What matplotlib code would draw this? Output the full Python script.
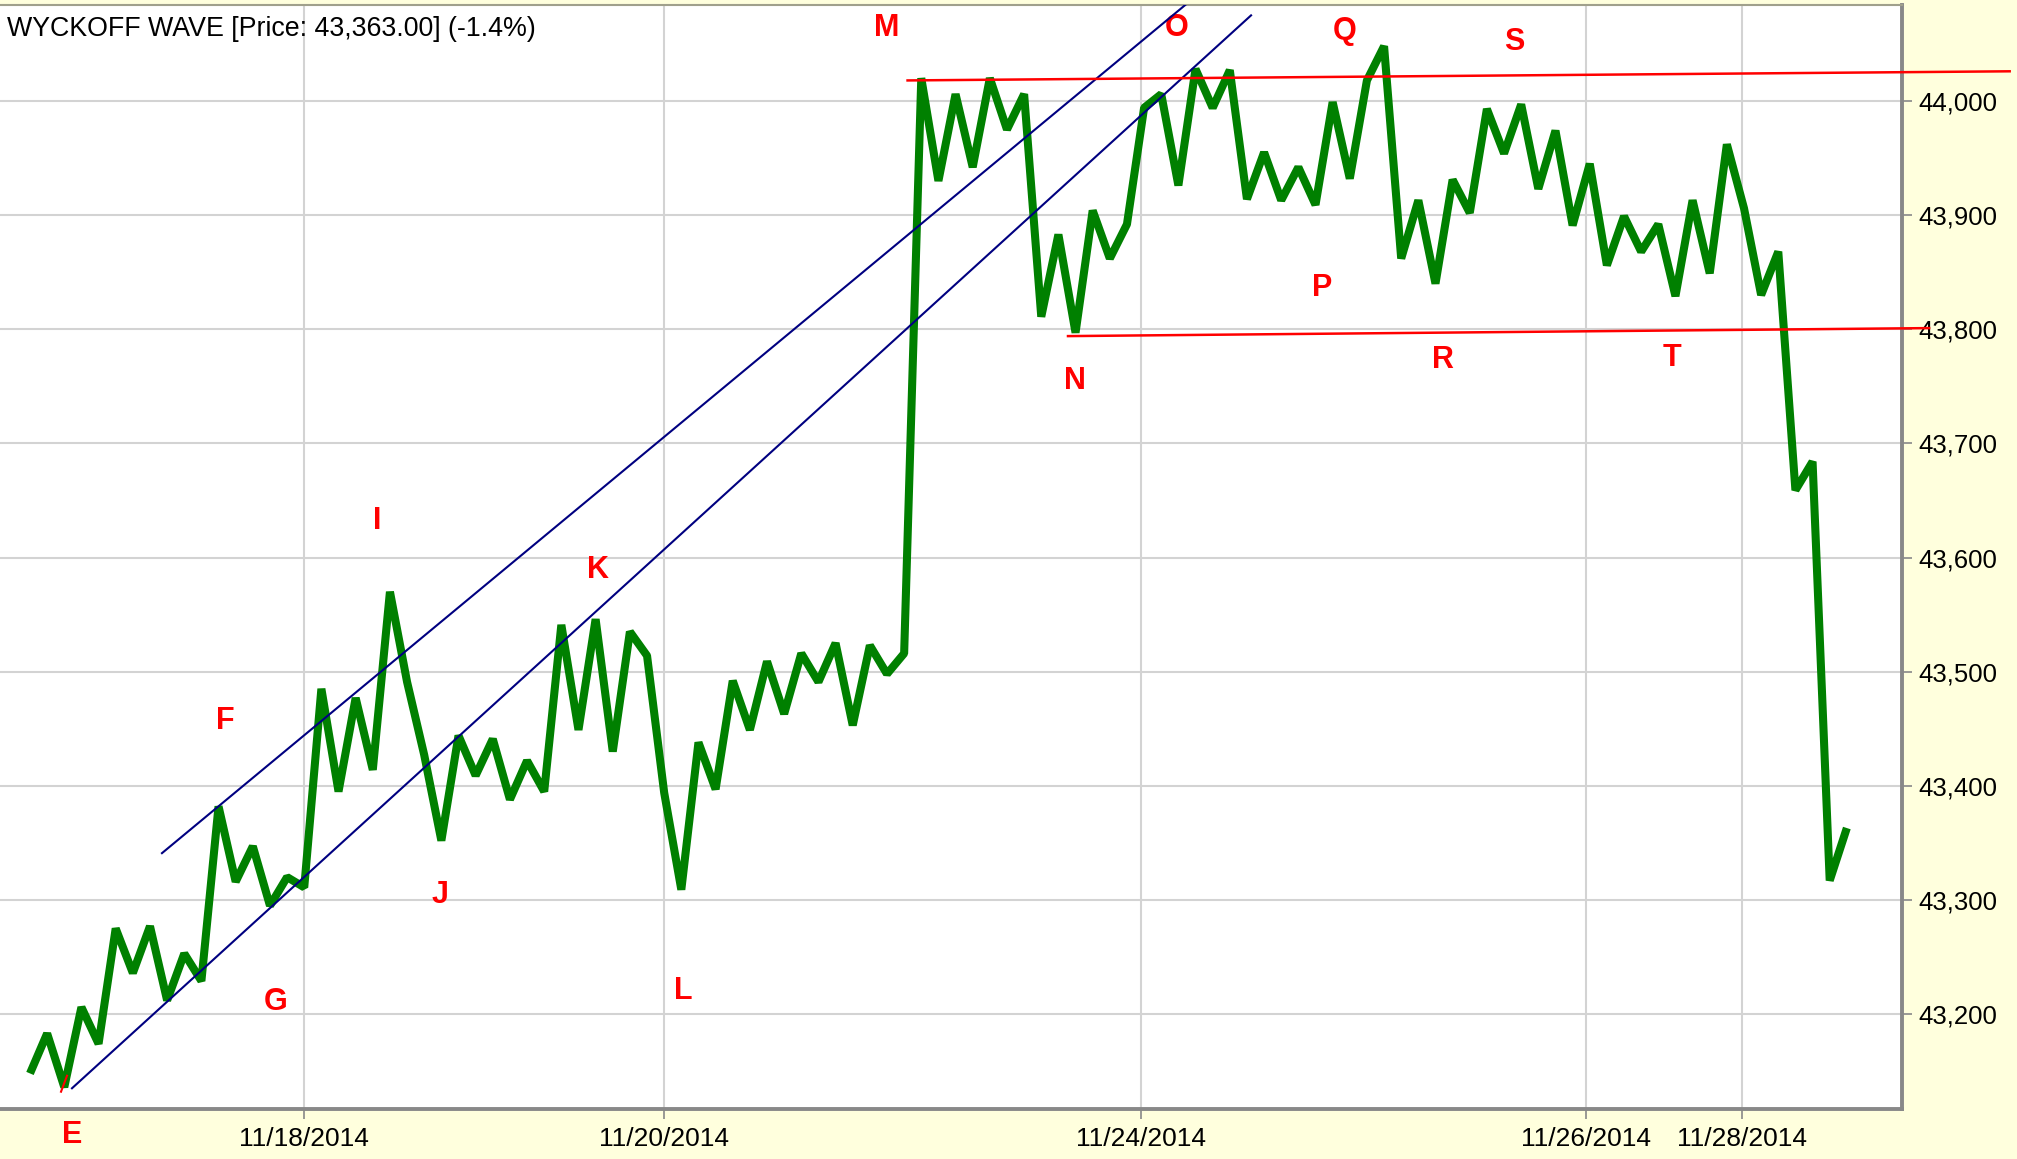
import matplotlib
matplotlib.use("Agg")
import matplotlib.pyplot as plt
import numpy as np
from matplotlib.ticker import FuncFormatter

plt.rcParams['font.family'] = ['Liberation Sans', 'DejaVu Sans']

# closing values, one per bar of the intraday series
prices = [43148, 43183, 43136, 43206, 43174, 43275, 43236, 43277, 43212, 43253,
          43229, 43382, 43316, 43347, 43295, 43320, 43311, 43485, 43395, 43477,
          43414, 43570, 43491, 43427, 43352, 43444, 43409, 43441, 43388, 43422,
          43395, 43541, 43449, 43546, 43430, 43535, 43514, 43394, 43309, 43438,
          43397, 43492, 43449, 43509, 43463, 43516, 43491, 43525, 43453, 43523,
          43498, 43516, 44020, 43930, 44006, 43942, 44020, 43975, 44006, 43811,
          43883, 43797, 43904, 43862, 43892, 43994, 44006, 43926, 44028, 43994,
          44027, 43914, 43955, 43913, 43942, 43909, 43999, 43932, 44018, 44048,
          43862, 43913, 43840, 43931, 43902, 43993, 43954, 43997, 43923, 43974,
          43891, 43945, 43856, 43899, 43868, 43892, 43829, 43913, 43849, 43962,
          43906, 43830, 43868, 43659, 43684, 43317, 43363]
bars = np.arange(len(prices))

date_pos = [16, 37, 64.8, 90.8, 99.9]
date_labels = ['11/18/2014', '11/20/2014', '11/24/2014', '11/26/2014', '11/28/2014']
price_ticks = [43200, 43300, 43400, 43500, 43600, 43700, 43800, 43900, 44000]

wave_letters = ['E', 'F', 'G', 'I', 'J', 'K', 'L', 'M', 'N', 'O', 'P', 'Q', 'R', 'S', 'T']
letter_x = [2.45, 11.38, 14.35, 20.25, 23.92, 33.14, 38.1, 50.0, 60.97, 66.92,
            75.38, 76.72, 82.44, 86.58, 95.8]
letter_y = [43094, 43457, 43211, 43632, 43304, 43589, 43220, 44064, 43755, 44064,
            43836, 44061, 43773, 44052, 43775]

# trend channel and trading range
chan_low_x, chan_low_y = [2.45, 71.24], [43135, 44075]
chan_high_x, chan_high_y = [7.70, 69.0], [43341, 44104]
resist_x, resist_y = [51.2, 115.5], [44018, 44026]
support_x, support_y = [60.56, 110.8], [43794, 43801]
tick_e_x, tick_e_y = [1.81, 2.16], [43132, 43146]

fig = plt.figure(figsize=(20.17, 11.59), dpi=100, facecolor='#FFFFDD')
ax = fig.add_axes([0, 0.0431, 0.943, 0.9526])
ax.set_facecolor('white')

ax.plot(bars, prices, color='#008000', lw=5.8, solid_joinstyle='bevel',
        solid_capstyle='butt', zorder=3)
ax.plot(chan_low_x, chan_low_y, color='#000080', lw=1.5, zorder=4)
ax.plot(chan_high_x, chan_high_y, color='#000080', lw=1.5, zorder=4)
ax.plot(resist_x, resist_y, color='red', lw=1.8, zorder=5, clip_on=False)
ax.plot(support_x, support_y, color='red', lw=1.8, zorder=5, clip_on=False)
ax.plot(tick_e_x, tick_e_y, color='red', lw=1.5, zorder=5, clip_on=False)

for s, lx, ly in zip(wave_letters, letter_x, letter_y):
    ax.text(lx, ly, s, color='red', fontsize=22, fontweight='bold',
            ha='center', va='center', clip_on=False)

ax.text(0.0037, 0.972, 'WYCKOFF WAVE [Price: 43,363.00] (-1.4%)',
        transform=ax.transAxes, fontsize=19.3, va='baseline', ha='left')

ax.set_xlim(-1.75, 109.22)
ax.set_ylim(43116.8, 44084.1)

ax.set_xticks(date_pos)
ax.set_xticklabels(date_labels)
ax.set_yticks(price_ticks)
ax.yaxis.set_major_formatter(FuncFormatter(lambda v, p: f'{v:,.0f}'))
ax.yaxis.tick_right()

ax.tick_params(axis='x', labelsize=19, length=7, width=1.2, color='#888888', pad=6)
ax.tick_params(axis='y', labelsize=18.5, length=7, width=1.2, color='#888888', pad=5)

ax.grid(True, color='#d3d3d3', lw=1.5)
ax.set_axisbelow(True)

ax.spines['left'].set_visible(False)
ax.spines['top'].set_color('#a0a08c')
ax.spines['top'].set_linewidth(1.5)
for side in ['bottom', 'right']:
    ax.spines[side].set_color('#888888')
    ax.spines[side].set_linewidth(2.8)

fig.savefig('out.png', dpi=100, facecolor=fig.get_facecolor())
